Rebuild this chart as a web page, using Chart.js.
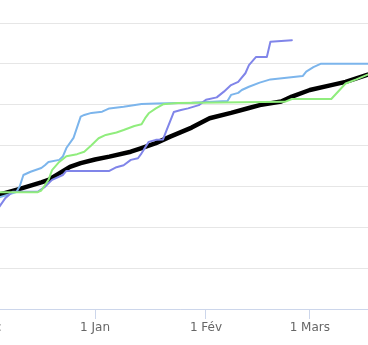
<!DOCTYPE html>
<html>
<head>
<meta charset="utf-8">
<script src="https://cdn.jsdelivr.net/npm/chart.js@4"></script>
<style>
  html, body { margin: 0; padding: 0; background: #ffffff; }
  #view { position: relative; width: 368px; height: 345px; overflow: hidden; background: #ffffff; }
  #c { position: absolute; left: -120px; top: 0; }
</style>
</head>
<body>
<div id="view"><canvas id="c" width="600" height="345"></canvas></div>
<script>
// x = days since 1 December
const tickDays   = [0, 31, 62, 91];
const tickLabels = ['1 Déc', '1 Jan', '1 Fév', '1 Mars'];

const blackDays   = [3, 4, 10, 16, 18, 21, 24, 27, 31, 35, 41, 44, 48, 52, 58, 63, 69, 74, 77, 83, 86, 91, 97, 101, 107, 110];
const blackValues = [27.5, 27.9, 29.4, 31.0, 31.6, 33.2, 34.8, 35.7, 36.6, 37.3, 38.5, 39.4, 40.6, 42.2, 44.4, 46.7, 48.0, 49.2, 49.9, 50.8, 52.0, 53.6, 54.8, 55.6, 57.3, 58.0];

const blueDays   = [3, 9, 10, 11, 13, 16, 17, 18, 21, 22, 23, 25, 27, 28, 30, 33, 35, 39, 44, 48, 58, 68, 69, 71, 72, 74, 77, 80, 89, 90, 92, 94, 110];
const blueValues = [27.0, 28.6, 30.1, 32.8, 33.6, 34.5, 35.2, 36.0, 36.5, 37.3, 39.4, 41.9, 47.1, 47.5, 48.0, 48.3, 49.1, 49.5, 50.2, 50.3, 50.5, 50.9, 52.4, 52.9, 53.6, 54.4, 55.4, 56.2, 57.0, 58.1, 59.2, 60, 60];

const purpleDays   = [3, 4, 6, 8, 15, 17, 19, 22, 23, 35, 37, 39, 41, 43, 44, 46, 48, 50, 51, 53, 55, 57, 60, 62, 65, 67, 69, 71, 73, 74, 76, 79, 80, 83, 86];
const purpleValues = [23.5, 24.7, 27.2, 28.7, 28.7, 29.9, 31.6, 32.8, 33.8, 33.8, 34.7, 35.2, 36.5, 36.9, 38.1, 40.9, 41.4, 41.5, 43.8, 48.2, 48.7, 49.1, 49.9, 51.2, 51.8, 53.2, 54.8, 55.6, 57.7, 59.7, 61.7, 61.7, 65.4, 65.6, 65.8];

const greenDays   = [3, 15, 16, 18, 19, 21, 23, 26, 28, 30, 32, 34, 37, 39, 42, 44, 45, 46, 48, 50, 54, 84, 86, 97, 101, 104, 107, 110];
const greenValues = [28.6, 28.6, 29.0, 31.6, 34.0, 36.0, 37.4, 37.9, 38.5, 40.1, 41.8, 42.6, 43.2, 43.8, 44.8, 45.2, 46.7, 47.9, 49.1, 50.1, 50.4, 50.7, 51.4, 51.4, 55.2, 56.2, 57.3, 58.3];

function pts(days, vals) { return days.map((d, i) => ({ x: d, y: vals[i] })); }

new Chart(document.getElementById('c'), {
  type: 'line',
  data: {
    datasets: [
      { data: pts(greenDays, greenValues), borderColor: '#90ed7d', borderWidth: 2, order: 0 },
      { data: pts(purpleDays, purpleValues), borderColor: '#8085e9', borderWidth: 2, order: 1 },
      { data: pts(blueDays, blueValues), borderColor: '#7cb5ec', borderWidth: 2, order: 2 },
      { data: pts(blackDays, blackValues), borderColor: '#000000', borderWidth: 4.5, order: 3 }
    ]
  },
  options: {
    responsive: false,
    animation: false,
    events: [],
    layout: { padding: { top: 23, left: 0, right: 0, bottom: 0 } },
    elements: { point: { radius: 0 }, line: { tension: 0, borderJoinStyle: 'round', borderCapStyle: 'round' } },
    plugins: { legend: { display: false }, tooltip: { enabled: false } },
    scales: {
      x: {
        type: 'linear',
        min: -29.06,
        max: 138.54,
        afterBuildTicks: (axis) => { axis.ticks = tickDays.map(v => ({ value: v })); },
        afterFit: (scale) => { scale.height = 36; },
        grid: { drawOnChartArea: false, drawTicks: true, tickLength: 10, color: '#ccd6eb', lineWidth: 1 },
        border: { display: true, color: '#ccd6eb', width: 1 },
        ticks: {
          autoSkip: false, maxRotation: 0, minRotation: 0, padding: 2,
          color: '#666666',
          font: { size: 12, family: '"DejaVu Sans", Verdana, sans-serif' },
          callback: (v) => { const i = tickDays.indexOf(v); return i >= 0 ? tickLabels[i] : ''; }
        }
      },
      y: {
        type: 'linear',
        min: 0,
        max: 70,
        afterFit: (scale) => { scale.width = 0; },
        ticks: { display: false, stepSize: 10 },
        border: { display: false },
        grid: { drawTicks: false, color: '#e6e6e6', lineWidth: 1 }
      }
    }
  }
});
</script>
</body>
</html>
